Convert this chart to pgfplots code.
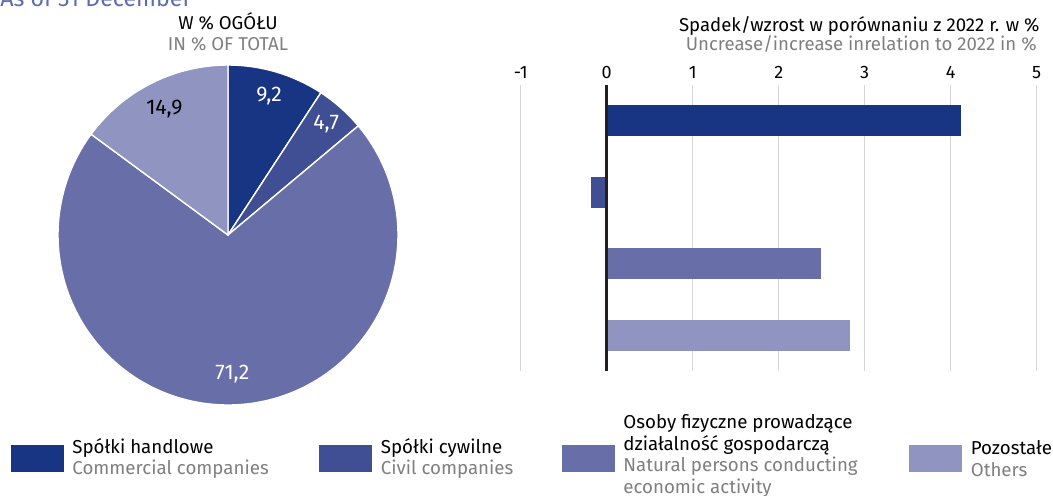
\documentclass[border=0pt]{standalone}
\usepackage{pgfplots}
\pgfplotsset{compat=1.18}
\usepackage{fontspec}
\setmainfont{Fira Sans}
\definecolor{c1}{HTML}{173583}
\definecolor{c2}{HTML}{404F93}
\definecolor{c3}{HTML}{686EA8}
\definecolor{c4}{HTML}{8F94C0}
\definecolor{gtext}{HTML}{7F7F7F}
\definecolor{topc}{HTML}{5B6CB2}
\definecolor{gridc}{HTML}{D6D6D6}
% pie shares (in % of total)
\def\va{9.2}\def\vb{4.7}\def\vc{71.2}\def\vd{14.9}
\begin{document}
\begin{tikzpicture}
\path[use as bounding box] (0,0) rectangle (526.5pt,-247.5pt);
\clip (0,0) rectangle (526.5pt,-247.5pt);
% top text (partly cut)
\node[anchor=base west, inner sep=0, text=topc, font=\fontsize{11.6}{13}\selectfont] at (0pt,-3pt) {As of 31 December};
% pie titles
\node[anchor=base, inner sep=0, font=\fontsize{9.3}{11}\selectfont] at (114pt,-14.5pt) {W \% OGÓŁU};
\node[anchor=base, inner sep=0, font=\fontsize{9.3}{11}\selectfont, text=gtext] at (114pt,-25pt) {IN \% OF TOTAL};
% bar titles
\node[anchor=base east, inner sep=0, font=\fontsize{9.3}{11}\selectfont] at (520pt,-15.5pt) {Spadek/wzrost w porównaniu z 2022 r. w \%};
\node[anchor=base east, inner sep=0, font=\fontsize{9.3}{11}\selectfont, text=gtext] at (518.5pt,-25.3pt) {Uncrease/increase inrelation to 2022 in \%};

% ---------- PIE ----------
\pgfmathsetmacro{\sa}{90}
\pgfmathsetmacro{\sb}{\sa-3.6*\va}
\pgfmathsetmacro{\sc}{\sb-3.6*\vb}
\pgfmathsetmacro{\sd}{\sc-3.6*\vc}
\pgfmathsetmacro{\se}{\sd-3.6*\vd}
\begin{axis}[at={(114pt,-117.5pt)}, anchor=center, scale only axis,
  width=170pt, height=170pt, xmin=-1, xmax=1, ymin=-1, ymax=1,
  hide axis, clip=false]
\addplot[fill=c1, draw=white, line width=0.7pt, domain=\sb:\sa, samples=40] ({cos(x)},{sin(x)}) -- (0,0) -- cycle;
\addplot[fill=c2, draw=white, line width=0.7pt, domain=\sc:\sb, samples=30] ({cos(x)},{sin(x)}) -- (0,0) -- cycle;
\addplot[fill=c3, draw=white, line width=0.7pt, domain=\sd:\sc, samples=160] ({cos(x)},{sin(x)}) -- (0,0) -- cycle;
\addplot[fill=c4, draw=white, line width=0.7pt, domain=\se:\sd, samples=40] ({cos(x)},{sin(x)}) -- (0,0) -- cycle;
\pgfmathsetmacro{\ma}{(\sa+\sb)/2}
\pgfmathsetmacro{\mb}{(\sb+\sc)/2}
\pgfmathsetmacro{\mc}{(\sc+\sd)/2}
\pgfmathsetmacro{\md}{(\sd+\se)/2}
\node[text=white, font=\fontsize{10.6}{12}\selectfont] at (axis cs:{0.85*cos(\ma)},{0.85*sin(\ma)}) {9,2};
\node[text=white, font=\fontsize{10.6}{12}\selectfont] at (axis cs:{0.87*cos(\mb)},{0.87*sin(\mb)}) {4,7};
\node[text=white, font=\fontsize{10.6}{12}\selectfont] at (axis cs:{0.82*cos(\mc)},{0.82*sin(\mc)}) {71,2};
\node[text=black, font=\fontsize{10.6}{12}\selectfont] at (axis cs:{0.83*cos(\md)},{0.83*sin(\md)}) {14,9};
\end{axis}

% ---------- BARS ----------
\begin{axis}[at={(260.35pt,-42.5pt)}, anchor=north west, scale only axis,
  width=258pt, height=143pt,
  xmin=-1, xmax=5, ymin=0.5, ymax=4.5, y dir=reverse,
  xtick={-1,0,1,2,3,4,5}, xticklabels={-1,0,1,2,3,4,5},
  xticklabel pos=upper, ytick=\empty,
  axis line style={draw=none}, major tick length=0pt, tick style={draw=none},
  xmajorgrids, grid style={line width=0.6pt, color=gridc},
  tick label style={font=\fontsize{9}{11}\selectfont},
  xticklabel style={yshift=-0.3pt},
  xbar, bar width=15.35pt, bar shift=0pt, clip=false]
\addplot[xbar, fill=c1, draw=none] coordinates {(4.12,1)};
\addplot[xbar, fill=c2, draw=none] coordinates {(-0.18,2)};
\addplot[xbar, fill=c3, draw=none] coordinates {(2.49,3)};
\addplot[xbar, fill=c4, draw=none] coordinates {(2.83,4)};
\draw[color={rgb,255:red,35;green,31;blue,32}, line width=1.3pt] (axis cs:0,0.5) -- (axis cs:0,4.5);
\end{axis}

% ---------- LEGEND ----------
\begin{scope}[font=\fontsize{9.35}{10.85}\selectfont]
\fill[c1] (5.5pt,-222.5pt) rectangle (32pt,-236pt);
\node[anchor=west, align=left, inner sep=0] at (36pt,-229.25pt) {Spółki handlowe\\\textcolor{gtext}{Commercial companies}};
\fill[c2] (159.5pt,-222.5pt) rectangle (186pt,-236pt);
\node[anchor=west, align=left, inner sep=0] at (190.25pt,-229.25pt) {Spółki cywilne\\\textcolor{gtext}{Civil companies}};
\fill[c3] (281pt,-222.5pt) rectangle (307.5pt,-236pt);
\node[anchor=west, align=left, inner sep=0] at (311.5pt,-228pt) {Osoby fizyczne prowadzące\\działalność gospodarczą\\\textcolor{gtext}{Natural persons conducting}\\\textcolor{gtext}{economic activity}};
\fill[c4] (454.5pt,-222.5pt) rectangle (481pt,-236pt);
\node[anchor=west, align=left, inner sep=0] at (485.2pt,-229.25pt) {Pozostałe\\\textcolor{gtext}{Others}};
\end{scope}
\end{tikzpicture}
\end{document}
